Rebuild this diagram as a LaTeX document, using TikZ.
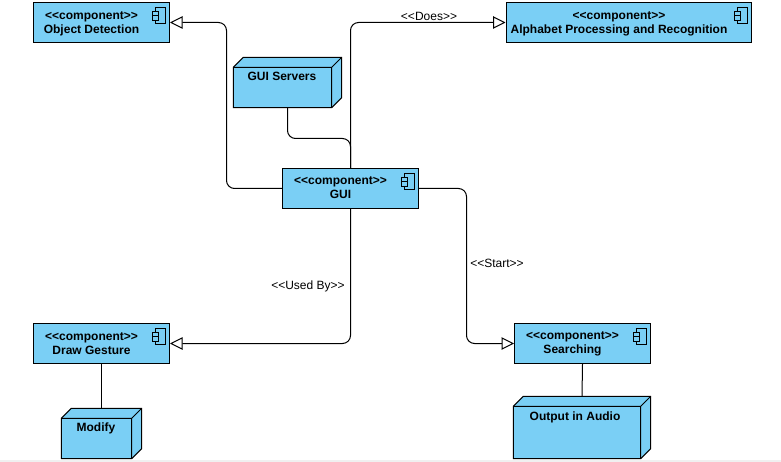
\documentclass[tikz,border=0pt]{standalone}
\usepackage{fontspec}
\setmainfont{Liberation Sans}
\usetikzlibrary{arrows.meta}

\definecolor{nodeblue}{HTML}{7ACFF5}
\newcommand{\stereo}[1]{<{}<#1>{}>}

\tikzset{
  compbox/.style={draw=black, fill=nodeblue, line width=1pt, minimum height=40pt, inner sep=0pt},
  comptext/.style={font=\fontsize{12}{14}\selectfont\bfseries, align=center, inner sep=0pt},
  cubebox/.style={inner sep=0pt},
  dep/.style={line width=1pt, rounded corners=8pt},
  gen/.style={dep, -{Triangle[open, fill=white, length=12.5pt, width=12.5pt]}},
  lbl/.style={font=\fontsize{12}{14}\selectfont, inner sep=0pt}
}

\begin{document}
\begin{tikzpicture}[x=1pt, y=-1pt]
  \useasboundingbox (0,0) rectangle (781,462);
  \fill[black!6] (0,460) rectangle (781,462);

  % Components
  \foreach \n/\cx/\cy/\w in {objdet/101.5/22.5/136, alphabet/628.75/22.5/245.5, gui/350.5/188.5/136, gesture/101.5/343.5/136, searching/582.5/343.5/136}
    \node[compbox, minimum width=\w pt] (\n) at (\cx,\cy) {};

  % Component icons
  \foreach \n in {objdet, alphabet, gui, gesture, searching} {
    \draw[line width=0.8pt, fill=nodeblue] ([shift={(-14.5,5.5)}]\n.north east) rectangle ([shift={(-4.5,21)}]\n.north east);
    \draw[line width=0.8pt, fill=nodeblue] ([shift={(-18,9)}]\n.north east) rectangle ([shift={(-11.5,13.5)}]\n.north east);
    \draw[line width=0.8pt, fill=nodeblue] ([shift={(-18,13.5)}]\n.north east) rectangle ([shift={(-11.5,18)}]\n.north east);
  }

  % Component texts
  \node[comptext] (objdettext) at (91.5,23.5) {\stereo{component}\\Object Detection};
  \node[comptext] (alphabettext) at (619,23.5) {\stereo{component}\\Alphabet Processing and Recognition};
  \node[comptext] (guitext) at (340.5,188) {\stereo{component}\\GUI};
  \node[comptext] (gesturetext) at (91.5,343.5) {\stereo{component}\\Draw Gesture};
  \node[comptext] (searchingtext) at (572.5,344) {\stereo{component}\\Searching};

  % Cube nodes
  \foreach \n/\cx/\cy/\w/\h in {guiservers/287.5/82.5/108/50, modify/101.5/433.5/80/50, audio/582/427.5/137/62} {
    \node[cubebox, minimum width=\w pt, minimum height=\h pt] (\n) at (\cx,\cy) {};
    \draw[line width=1pt, fill=nodeblue, line join=miter]
      ([shift={(0,10)}]\n.north west) -- ([shift={(10,0)}]\n.north west) -- (\n.north east)
      -- ([shift={(0,-10)}]\n.south east) -- ([shift={(-10,0)}]\n.south east) -- (\n.south west) -- cycle;
    \draw[line width=1pt]
      ([shift={(0,10)}]\n.north west) -- ([shift={(-10,10)}]\n.north east) -- (\n.north east)
      ([shift={(-10,10)}]\n.north east) -- ([shift={(-10,0)}]\n.south east);
  }
  \node[comptext] (guiserverstext) at (282,76.5) {GUI Servers};
  \node[comptext] (modifytext) at (96,428.5) {Modify};
  \node[comptext] (audiotext) at (575,417) {Output in Audio};

  % Connectors
  \draw[gen] (gui.west) -| (226.5,100) |- (objdet.east);
  \draw[gen] (gui.north) -- (350.5,100) |- (alphabet.west);
  \draw[gen] (gui.south) -- (350.5,300) |- (gesture.east);
  \draw[gen] (gui.east) -| (466.5,300) |- (searching.west);
  \draw[dep] (guiservers.south) |- (320,138.5) -| (gui.north);
  \draw[dep] (gesture.south) -- (modify.north);
  \draw[dep] (searching.south) -- (audio.north);

  % Connector labels
  \node[lbl] (doeslabel) at (429,16) {\stereo{Does}};
  \node[lbl] (usedbylabel) at (308,286.5) {\stereo{Used By}};
  \node[lbl] (startlabel) at (497,263.5) {\stereo{Start}};
\end{tikzpicture}
\end{document}
